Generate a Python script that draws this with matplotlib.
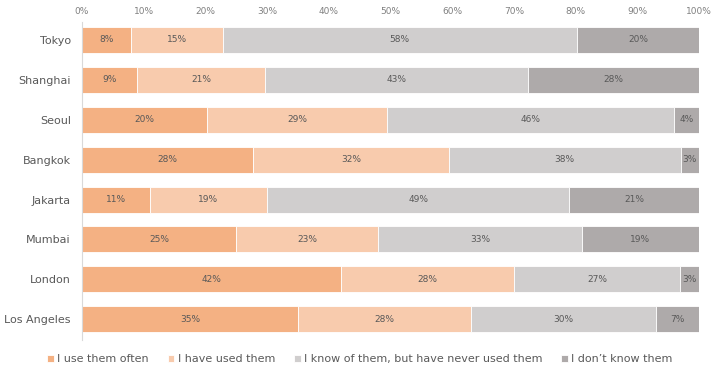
import matplotlib
matplotlib.use("Agg")
import matplotlib.pyplot as plt
import numpy as np

cities = ["Tokyo", "Shanghai", "Seoul", "Bangkok", "Jakarta", "Mumbai", "London", "Los Angeles"]
use_often = [8, 9, 20, 28, 11, 25, 42, 35]
have_used = [15, 21, 29, 32, 19, 23, 28, 28]
know_never = [58, 43, 46, 38, 49, 33, 27, 30]
dont_know = [20, 28, 4, 3, 21, 19, 3, 7]
series_names = ["I use them often", "I have used them",
                "I know of them, but have never used them", "I don\u2019t know them"]
colors = ["#F4B183", "#F8CBAD", "#D0CECE", "#AEAAAA"]

plt.rcParams['font.family'] = ['DejaVu Sans']
fig = plt.figure(figsize=(7.2, 3.75), dpi=100)
ax = fig.add_axes([82/720, 1 - 340/375, (699 - 82)/720, (340 - 22)/375])

data = np.array([use_often, have_used, know_never, dont_know], dtype=float)
totals = data.sum(axis=0)
norm = data / totals * 100
y = np.arange(len(cities))
left = np.zeros(len(cities))
for i in range(4):
    bars = ax.barh(y, norm[i], left=left, height=0.65, color=colors[i],
                   edgecolor="white", linewidth=0.6, label=series_names[i])
    for j, b in enumerate(bars):
        ax.text(left[j] + norm[i][j] / 2, y[j], f"{int(data[i][j])}%",
                ha="center", va="center", fontsize=6.5, color="#595959")
    left += norm[i]

ax.set_xlim(0, 100)
ax.set_ylim(len(cities) - 0.5 + 0.02, -0.45)
ax.set_yticks(y)
ax.set_yticklabels(cities, fontsize=8, color="#595959")
ax.set_xticks(np.arange(0, 101, 10))
ax.set_xticklabels([f"{v}%" for v in range(0, 101, 10)], fontsize=6.5, color="#808080")
ax.xaxis.tick_top()
ax.tick_params(axis="x", length=0, pad=4)
ax.tick_params(axis="y", length=0, pad=8)
for s in ["top", "right", "bottom"]:
    ax.spines[s].set_visible(False)
ax.spines["left"].set_color("#D9D9D9")
ax.spines["left"].set_linewidth(0.8)

leg = fig.legend(loc="center", bbox_to_anchor=(0.5, 1 - 359/375), ncol=4, frameon=False,
                 fontsize=8, handlelength=0.6, handleheight=0.6, handletextpad=0.3,
                 columnspacing=1.7, labelcolor="#595959")
fig.savefig("out.png", dpi=100)
